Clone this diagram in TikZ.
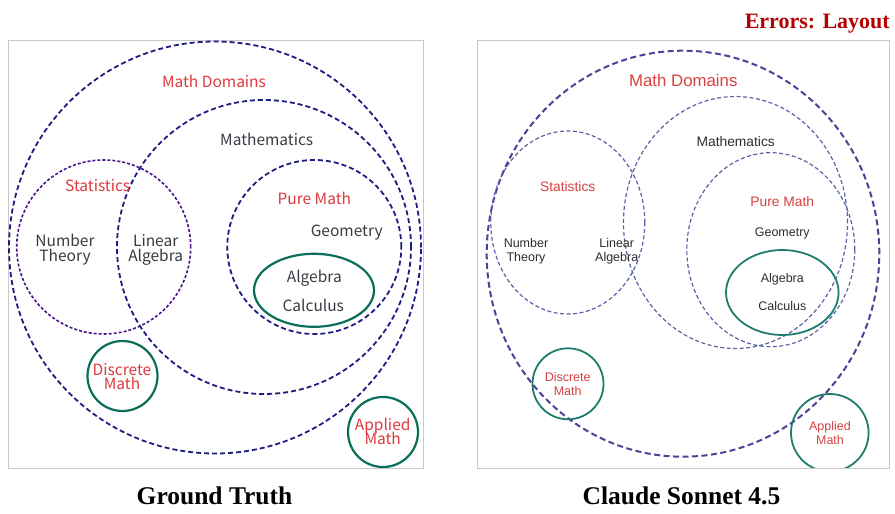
\documentclass[tikz,border=0pt]{standalone}
\usepackage{fontspec}
\setmainfont{Liberation Serif}
\newfontfamily\lsans{Noto Sans CJK SC}
\newfontfamily\rsans{Liberation Sans}
\usetikzlibrary{shapes.geometric}
\definecolor{framegray}{RGB}{200,200,200}
\definecolor{lnavy}{RGB}{30,30,130}
\definecolor{lpurple}{RGB}{75,20,140}
\definecolor{lgreen}{RGB}{10,110,90}
\definecolor{lred}{RGB}{222,58,62}
\definecolor{ldark}{RGB}{55,60,66}
\definecolor{rout}{RGB}{80,65,150}
\definecolor{rin}{RGB}{90,100,165}
\definecolor{rgreen}{RGB}{30,125,110}
\definecolor{rred}{RGB}{215,65,65}
\definecolor{rdark}{RGB}{45,45,45}
\definecolor{errred}{RGB}{180,0,0}
\tikzset{
  panel/.style={draw=framegray, line width=1pt, inner sep=0pt, outer sep=0pt, rectangle},
  ring/.style={circle, inner sep=0pt, outer sep=0pt},
  oval/.style={ellipse, inner sep=0pt, outer sep=0pt},
  lnav/.style={draw=lnavy, line width=1.8pt, dash pattern=on 5pt off 3pt},
  lpur/.style={draw=lpurple, line width=1.6pt, dash pattern=on 3pt off 2pt},
  lgrn/.style={draw=lgreen, line width=2.2pt},
  ltxt/.style={font=\lsans\fontsize{15.5}{15.5}\selectfont, inner sep=0pt, anchor=base},
  lredt/.style={ltxt, text=lred},
  ldarkt/.style={ltxt, text=ldark},
  routs/.style={draw=rout, line width=2pt, dash pattern=on 6pt off 3.5pt},
  rins/.style={draw=rin, line width=1.2pt, dash pattern=on 4pt off 2.5pt},
  rgrn/.style={draw=rgreen, line width=1.8pt},
  rtxtbig/.style={font=\rsans\fontsize{16.8}{16.8}\selectfont, inner sep=0pt, anchor=base},
  rtxtmid/.style={font=\rsans\fontsize{13.8}{13.8}\selectfont, inner sep=0pt, anchor=base},
  rtxt/.style={font=\rsans\fontsize{12.5}{12.5}\selectfont, inner sep=0pt, anchor=base},
  title/.style={font=\bfseries\fontsize{25.5}{25.5}\selectfont, inner sep=0pt, anchor=base},
}
\begin{document}
\begin{tikzpicture}[x=1pt,y=-1pt]
\useasboundingbox (0,0) rectangle (895,514);
\fill[white] (0,0) rectangle (895,514);

% ---------- left panel ----------
\node[panel, minimum width=415pt, minimum height=428pt] (lpanel) at (215.5,254) {};
\node[ring, lnav, minimum size=412pt] (ldomains) at (215,247.5) {};
\node[ring, lnav, minimum size=294pt] (lmaths) at (264,247) {};
\node[ring, lpur, minimum size=174pt] (lstats) at (103.7,247) {};
\node[ring, lnav, minimum size=174pt] (lpure) at (314.3,247) {};
\node[oval, lgrn, minimum width=120pt, minimum height=73pt] (lalg) at (314,290.3) {};
\node[ring, lgrn, minimum size=70pt] (ldisc) at (122.5,376) {};
\node[ring, lgrn, minimum size=70pt] (lappl) at (383,432) {};

\node[lredt] (tldomains) at (214,87.3) {Math Domains};
\node[ldarkt] (tlmaths) at (266.7,145) {Mathematics};
\node[lredt] (tlstats) at (97.7,191.7) {Statistics};
\node[lredt] (tlpure) at (314.3,204.7) {Pure Math};
\node[ldarkt] (tlgeo) at (346.7,236.7) {Geometry};
\node[ldarkt] (tlnum) at (65,246.5) {Number};
\node[ldarkt] (tlthe) at (65,261.5) {Theory};
\node[ldarkt] (tllin) at (155.7,246.5) {Linear};
\node[ldarkt] (tlalg2) at (155.7,261.5) {Algebra};
\node[ldarkt] (tlalg) at (314.3,282.3) {Algebra};
\node[ldarkt] (tlcalc) at (313.3,311.7) {Calculus};
\node[lredt] (tldisc) at (122,375) {Discrete};
\node[lredt] (tldisc2) at (122,389.5) {Math};
\node[lredt] (tlappl) at (382.7,430) {Applied};
\node[lredt] (tlappl2) at (382.7,444.7) {Math};

% ---------- right panel ----------
\begin{scope}
\clip (477,40) rectangle (889,468);
\node[oval, routs, minimum width=392.6pt, minimum height=406pt] (rdomains) at (683,253.7) {};
\node[oval, rins, minimum width=154pt, minimum height=183pt] (rstats) at (567.8,222.5) {};
\node[oval, rins, minimum width=224pt, minimum height=252pt] (rmaths) at (735.5,222.5) {};
\node[oval, rins, minimum width=168pt, minimum height=194pt] (rpure) at (770.8,249.7) {};
\node[oval, rgrn, minimum width=112.6pt, minimum height=85pt] (ralg) at (782.3,292.5) {};
\node[ring, rgrn, minimum size=71pt] (rdisc) at (568,383.8) {};
\node[ring, rgrn, minimum size=77.6pt] (rappl) at (829.8,432.8) {};
\end{scope}
\node[panel, minimum width=412pt, minimum height=428pt] (rpanel) at (683,254) {};

\node[rtxtbig, text=rred] (trdomains) at (683.3,86.7) {Math Domains};
\node[rtxtmid, text=rdark] (trmaths) at (735.7,146) {Mathematics};
\node[rtxtmid, text=rred] (trstats) at (567.7,191.7) {Statistics};
\node[rtxtmid, text=rred] (trpure) at (782.3,206) {Pure Math};
\node[rtxt, text=rdark] (trgeo) at (782.3,236.7) {Geometry};
\node[rtxt, text=rdark] (trnum) at (526,247.7) {Number};
\node[rtxt, text=rdark] (trthe) at (526,261.7) {Theory};
\node[rtxt, text=rdark] (trlin) at (616.7,247.7) {Linear};
\node[rtxt, text=rdark] (tralg2) at (616.7,261.7) {Algebra};
\node[rtxt, text=rdark] (tralg) at (782.3,282.7) {Algebra};
\node[rtxt, text=rdark] (trcalc) at (782.3,310.7) {Calculus};
\node[rtxt, text=rred] (trdisc) at (567.7,381) {Discrete};
\node[rtxt, text=rred] (trdisc2) at (567.7,395) {Math};
\node[rtxt, text=rred] (trappl) at (830,430) {Applied};
\node[rtxt, text=rred] (trappl2) at (830,444) {Math};

% ---------- titles ----------
\node[title] (gt) at (214.5,504.3) {Ground Truth};
\node[title] (cs) at (681.5,504.3) {Claude Sonnet 4.5};
\node[font=\bfseries\fontsize{22}{22}\selectfont, text=errred, inner sep=0pt, anchor=base east] (err) at (890,28.3) {Errors: Layout};
\end{tikzpicture}
\end{document}
